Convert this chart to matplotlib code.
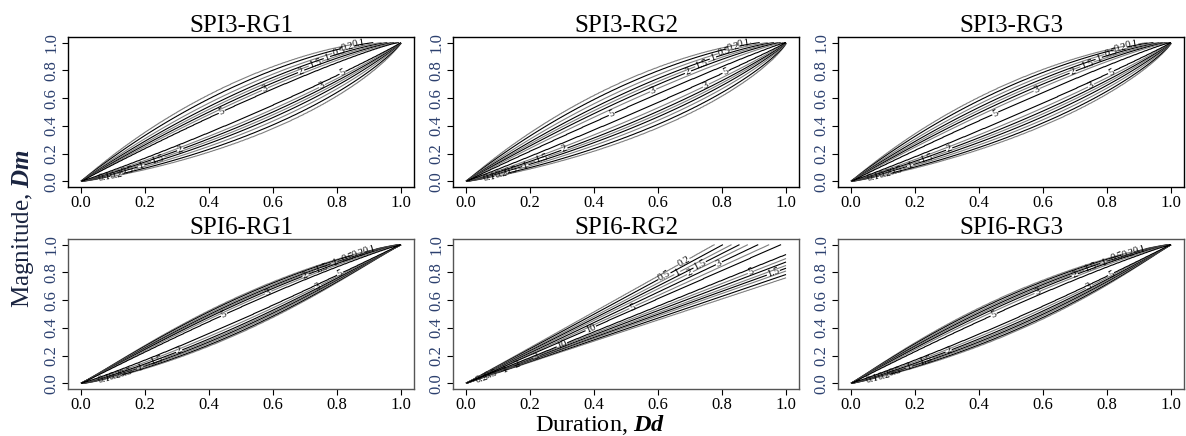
import numpy as np
import matplotlib
matplotlib.use("Agg")
import matplotlib.pyplot as plt

plt.rcParams["font.family"] = ["Liberation Serif", "DejaVu Serif"]
plt.rcParams["mathtext.fontset"] = "custom"
plt.rcParams["mathtext.bf"] = "Liberation Serif:italic:bold"
plt.rcParams["mathtext.rm"] = "Liberation Serif"

# panel titles, 2 rows x 3 columns
titles = ["SPI3-RG1", "SPI3-RG2", "SPI3-RG3",
          "SPI6-RG1", "SPI6-RG2", "SPI6-RG3"]

# contour levels of the joint density
levels_lens = [0.1, 0.2, 0.5, 1, 1.5, 2, 3, 5]
levels_fan = [0.2, 0.5, 1, 1.5, 2, 3, 5, 10]

# lens panels: distance of each level (same order as levels_lens) from the
# diagonal, above (up) and below (lo), read at the widest part of the lens
off_up = {
    0: [0.235, 0.205, 0.175, 0.150, 0.130, 0.110, 0.090, 0.065],
    1: [0.230, 0.200, 0.170, 0.142, 0.120, 0.098, 0.070, 0.030],
    2: [0.215, 0.190, 0.165, 0.142, 0.122, 0.102, 0.080, 0.040],
    3: [0.135, 0.125, 0.114, 0.104, 0.095, 0.085, 0.070, 0.050],
    5: [0.150, 0.138, 0.126, 0.115, 0.104, 0.092, 0.075, 0.050],
}
off_lo = {
    0: [0.220, 0.192, 0.165, 0.140, 0.120, 0.100, 0.080, 0.050],
    1: [0.215, 0.188, 0.160, 0.135, 0.115, 0.095, 0.070, 0.030],
    2: [0.200, 0.178, 0.155, 0.133, 0.113, 0.093, 0.070, 0.035],
    3: [0.135, 0.124, 0.113, 0.102, 0.092, 0.080, 0.062, 0.040],
    5: [0.140, 0.128, 0.116, 0.105, 0.094, 0.082, 0.065, 0.045],
}
# envelope shape along the diagonal (rise, fall) for the upper / lower side
env_up = {0: (1.0, 0.6), 1: (1.0, 0.6), 2: (1.0, 0.65), 3: (1.2, 0.8), 5: (1.1, 0.8)}
env_lo = {0: (0.9, 0.9), 1: (0.9, 0.85), 2: (0.9, 0.85), 3: (0.8, 1.2), 5: (0.9, 1.1)}

# where along the diagonal each level is labelled (upper side, lower side)
lab_t_up = [0.93, 0.90, 0.87, 0.83, 0.79, 0.74, 0.62, 0.47]
lab_t_lo = [0.05, 0.08, 0.11, 0.15, 0.20, 0.27, 0.72, 0.80]

# fan panel (SPI6-RG2): slope offsets of each level (levels_fan order)
fan_centre = 0.97
fan_up = [0.32, 0.275, 0.235, 0.20, 0.165, 0.125, 0.085, 0.045]
fan_lo = [0.21, 0.185, 0.160, 0.14, 0.120, 0.095, 0.070, 0.040]
fan_lab_up = [0.68, 0.62, 0.66, 0.73, 0.70, 0.79, 0.52, 0.39]
fan_lab_lo = [0.05, 0.08, 0.12, 0.96, 0.16, 0.22, 0.89, 0.30]

ticks = [0.0, 0.2, 0.4, 0.6, 0.8, 1.0]
line_cols = ["#808080", "black"]

W, H = 1186, 436
lefts = [68, 453, 838]
tops = [37, 239]
aw, ah = 346, 150

g = np.linspace(0.0005, 0.9995, 450)
X, Y = np.meshgrid(g, g)


def envelope(t, a, b):
    tm = a / (a + b)
    e = (t ** a * (1 - t) ** b) / (tm ** a * (1 - tm) ** b)
    return np.maximum(e, 1e-6)


def side_density(r, offs, levels, top):
    # offs run outer -> inner, levels low -> high
    xp = np.array(offs[::-1])
    fp = np.array(levels[::-1], dtype=float)
    return np.interp(r, xp, fp, left=top, right=0.0)


def lens_field(i):
    t = (X + Y) / 2
    s = Y - X
    up = side_density(s / envelope(t, *env_up[i]), off_up[i], levels_lens, 6.5)
    lo = side_density(-s / envelope(t, *env_lo[i]), off_lo[i], levels_lens, 6.5)
    return np.where(s > 0, up, lo)


def lens_labels(i):
    pts = []
    for k in range(len(levels_lens)):
        t = lab_t_up[k]
        s = off_up[i][k] * envelope(t, *env_up[i])
        pts.append((t - s / 2, t + s / 2))
        t = lab_t_lo[k]
        s = off_lo[i][k] * envelope(t, *env_lo[i])
        pts.append((t + s / 2, t - s / 2))
    return pts


def fan_field():
    d = Y / X - fan_centre
    up = side_density(d, fan_up, levels_fan, 13.0)
    lo = side_density(-d, fan_lo, levels_fan, 13.0)
    return np.where(d > 0, up, lo)


def fan_labels():
    pts = []
    for k in range(len(levels_fan)):
        x = fan_lab_up[k]
        pts.append((x, x * (fan_centre + fan_up[k])))
        x = fan_lab_lo[k]
        pts.append((x, x * (fan_centre - fan_lo[k])))
    return [p for p in pts if p[1] < 0.99]


fig = plt.figure(figsize=(W / 100, H / 100), dpi=100)

for i, name in enumerate(titles):
    row, col = divmod(i, 3)
    ax = fig.add_axes([lefts[col] / W, 1 - (tops[row] + ah) / H, aw / W, ah / H])
    if i == 4:
        Z = fan_field()
        lev = levels_fan
        pts = fan_labels()
    else:
        Z = lens_field(i)
        lev = levels_lens
        pts = lens_labels(i)
    cols = [line_cols[k % 2] for k in range(len(lev))]
    cs = ax.contour(X, Y, Z, levels=lev, colors=cols, linewidths=0.8)
    ax.clabel(cs, inline=True, fontsize=7.5, fmt=lambda v: f"{v:g}",
              inline_spacing=1, colors="black", manual=pts)
    ax.set_xlim(-0.04, 1.04)
    ax.set_ylim(-0.04, 1.04)
    ax.set_xticks(ticks)
    ax.set_yticks(ticks)
    ax.set_xticklabels([f"{v:.1f}" for v in ticks])
    ax.set_yticklabels([f"{v:.1f}" for v in ticks], rotation=90, va="center")
    ax.tick_params(direction="out", length=4.0, width=0.8, labelsize=12, pad=2)
    ax.tick_params(axis="y", labelcolor="#2b3f6e")
    frame = "black" if row == 0 else "#555555"
    for sp in ax.spines.values():
        sp.set_color(frame)
        sp.set_linewidth(1.0)
    ax.set_title(name, fontsize=18, pad=3)

fig.text(0.506, 5 / H, r"Duration, $\mathbf{Dd}$", fontsize=17.5,
         ha="center", va="baseline")
fig.text(0.019, 0.477, r"Magnitude, $\mathbf{Dm}$", fontsize=18,
         ha="center", va="center", rotation=90, color="#1a2440")

fig.savefig("out.png", dpi=100)
